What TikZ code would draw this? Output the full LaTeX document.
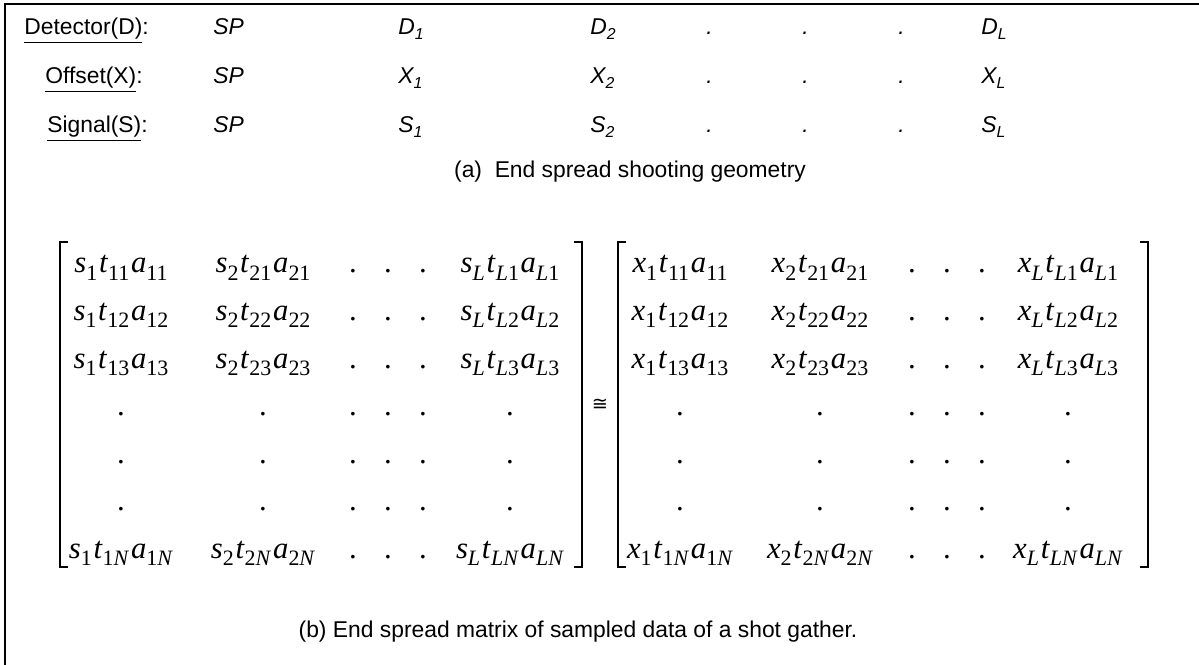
\documentclass[tikz,border=0pt]{standalone}
\usepackage{fontspec}
\setmainfont{Liberation Sans}
\newfontfamily\tmsfont{Liberation Serif}
\newfontfamily\symfont{DejaVu Sans}
\usetikzlibrary{positioning}

% small subscripts for the geometry rows and the matrix entries
\newcommand{\lo}[1]{\raisebox{-0.35ex}{\fontsize{9}{9}\selectfont #1}}
\newcommand{\mlo}[1]{\raisebox{-0.5ex}{\fontsize{12.5}{12}\selectfont #1}}
\newcommand{\mel}[6]{\textit{#1}\mlo{#2}\kern1pt\textit{#3}\mlo{#4}\kern1pt\textit{#5}\mlo{#6}}

\begin{document}
\begin{tikzpicture}[
    x=0.02cm, y=-0.02cm,
    lab/.style={anchor=base west, inner sep=0pt, font=\fontsize{13}{15}\selectfont},
    itm/.style={anchor=base west, inner sep=0pt, font=\fontsize{13}{15}\selectfont\itshape},
    captxt/.style={anchor=base, inner sep=0pt, font=\fontsize{13}{15}\selectfont},
    ent/.style={anchor=base, inner sep=0pt, font=\tmsfont\fontsize{17.5}{19}\selectfont},
    brk/.style={line width=0.8pt},
    frame/.style={line width=1.2pt}
]
    \useasboundingbox (0,0) rectangle (1199,665);

    % 1. Frame (only top and left edges show)
    \draw[frame] (5,665) -- (5,4) -- (1199,4);

    % 2. Shooting geometry rows
    \node[lab] (det) at (24,35) {\underline{Detector(D)}:};
    \node[lab] (off) at (45,84) {\underline{Offset(X)}:};
    \node[lab] (sig) at (47,133) {\underline{Signal(S)}:};
    \foreach \n/\v/\y in {det/D/35, off/X/84, sig/S/133}{
        \node[itm] (\n-sp) at (213,\y) {SP};
        \node[itm] (\n-1) at (398,\y) {\v\lo{1}};
        \node[itm] (\n-2) at (590,\y) {\v\lo{2}};
        \node[itm] (\n-d1) at (706,\y) {.};
        \node[itm] (\n-d2) at (802,\y) {.};
        \node[itm] (\n-d3) at (898,\y) {.};
        \node[itm] (\n-L) at (981,\y) {\v\lo{L}};
    }
    \node[captxt] (capa) at (630,178) {(a)\ \ End spread shooting geometry};

    % 3. Matrix brackets and the congruence sign
    \draw[brk] (68,242) -- (60,242) -- (60,567) -- (68,567);
    \draw[brk] (574,242) -- (582,242) -- (582,567) -- (574,567);
    \draw[brk] (626,242) -- (618,242) -- (618,567) -- (626,567);
    \draw[brk] (1140,242) -- (1148,242) -- (1148,567) -- (1140,567);
    \node[font=\symfont\fontsize{11}{11}\selectfont, inner sep=0pt] (cong) at (600,405) {≅};

    % 4. Matrix entries (left: s, right: x)
    \foreach \m/\v/\ca/\cb/\da/\db/\dc/\cl in {ls/s/121/263/353/388/423/510, rx/x/680/820/912/947/982/1068}{
        \foreach \r/\y in {1/273, 2/320, 3/368}{
            \node[ent] (\m-\r-1) at (\ca,\y) {\mel{\v}{1}{t}{1\r}{a}{1\r}};
            \node[ent] (\m-\r-2) at (\cb,\y) {\mel{\v}{2}{t}{2\r}{a}{2\r}};
            \node[ent] (\m-\r-3) at (\da,\y) {.};
            \node[ent] (\m-\r-4) at (\db,\y) {.};
            \node[ent] (\m-\r-5) at (\dc,\y) {.};
            \node[ent] (\m-\r-6) at (\cl,\y) {\mel{\v}{\textit{L}}{t}{\textit{L}\r}{a}{\textit{L}\r}};
        }
        \foreach \r/\y in {4/415, 5/463, 6/510}{
            \foreach \c/\x in {1/\ca, 2/\cb, 3/\da, 4/\db, 5/\dc, 6/\cl}
                \node[ent] (\m-\r-\c) at (\x,\y) {.};
        }
        \node[ent] (\m-7-1) at (\ca,558) {\mel{\v}{1}{t}{1\textit{N}}{a}{1\textit{N}}};
        \node[ent] (\m-7-2) at (\cb,558) {\mel{\v}{2}{t}{2\textit{N}}{a}{2\textit{N}}};
        \node[ent] (\m-7-3) at (\da,558) {.};
        \node[ent] (\m-7-4) at (\db,558) {.};
        \node[ent] (\m-7-5) at (\dc,558) {.};
        \node[ent] (\m-7-6) at (\cl,558) {\mel{\v}{\textit{L}}{t}{\textit{LN}}{a}{\textit{LN}}};
    }

    % 5. Caption of the matrix
    \node[captxt] (capb) at (578,637) {(b) End spread matrix of sampled data of a shot gather.};
\end{tikzpicture}
\end{document}
